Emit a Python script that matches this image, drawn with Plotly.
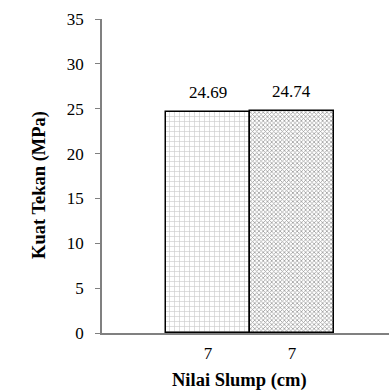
import plotly.graph_objects as go

# Compressive strength for each mix, both at a slump of 7 cm
slump_labels = ["7", "7"]
strength = [24.69, 24.74]
value_labels = ["24.69", "24.74"]
positions = [0, 1]

patterns = ["+", "x"]
pattern_sizes = [5, 3]
pattern_colors = ["#9a9a9a", "#3a3a3a"]
pattern_solidity = [0.25, 0.45]

serif = "Liberation Serif"

fig = go.Figure()
for i in range(len(strength)):
    fig.add_trace(go.Bar(
        x=[positions[i]],
        y=[strength[i]],
        width=1.0,
        marker=dict(
            color="white",
            line=dict(color="black", width=1.5),
            pattern=dict(shape=patterns[i], size=pattern_sizes[i],
                         fgcolor=pattern_colors[i], bgcolor="white",
                         solidity=pattern_solidity[i], fillmode="overlay"),
        ),
        showlegend=False,
    ))

plot_w = 389 - 102
plot_h = 392 - 19 - 59

annotations = [
    dict(x=positions[i], y=strength[i], text=value_labels[i],
         xref="x", yref="y", showarrow=False, yanchor="bottom",
         yshift=8, font=dict(family=serif, size=17, color="black"))
    for i in range(len(strength))
]
annotations += [
    dict(text="<b>Nilai Slump (cm)</b>", xref="paper", yref="paper",
         x=(239 - 102) / plot_w, y=-(380 - 333) / plot_h,
         xanchor="center", yanchor="middle", showarrow=False,
         font=dict(family=serif, size=18.5, color="black")),
    dict(text="<b>Kuat Tekan (MPa)</b>", textangle=-90,
         xref="paper", yref="paper",
         x=-(102 - 39) / plot_w, y=(333 - 185) / plot_h,
         xanchor="center", yanchor="middle", showarrow=False,
         font=dict(family=serif, size=18.5, color="black")),
]

fig.update_layout(
    width=389, height=392,
    margin=dict(l=102, r=0, t=19, b=59),
    paper_bgcolor="white", plot_bgcolor="white",
    font=dict(family=serif, size=17, color="black"),
    bargap=0,
    xaxis=dict(
        range=[-1.262, 2.155],
        tickvals=positions, ticktext=slump_labels,
        showgrid=False, zeroline=False,
        showline=True, linecolor="#808080", linewidth=1.5,
        ticks="", ticklabelstandoff=4,
        tickfont=dict(family=serif, size=17, color="black"),
    ),
    yaxis=dict(
        range=[0, 35], dtick=5,
        showgrid=False, zeroline=False,
        showline=True, linecolor="#808080", linewidth=1.5,
        ticks="outside", ticklen=5, tickcolor="#808080", tickwidth=1,
        ticklabelstandoff=8,
        tickfont=dict(family=serif, size=17, color="black"),
    ),
    annotations=annotations,
)

fig.write_html("out.html")
